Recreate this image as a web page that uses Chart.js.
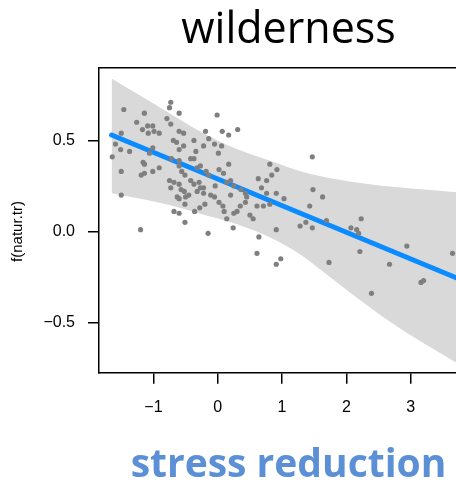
<!DOCTYPE html>
<html>
<head>
<meta charset="utf-8">
<script src="https://cdn.jsdelivr.net/npm/chart.js@4"></script>
<style>
  html, body { margin: 0; padding: 0; background: #fff; overflow: hidden; }
  #wrap { width: 482px; height: 483px; position: relative; }
</style>
</head>
<body>
<div id="wrap"><canvas id="myChart"></canvas></div>
<script>
// partial residuals
const pointX = [
  -1.46, -0.73, -0.75, -0.60, -1.14, -0.01, -1.26, -0.79, -0.73, -1.09,
  -1.17, -1.01, -1.08, -0.99, -0.91, -0.60, -0.53, -0.19, 0.07, 0.17,
  0.31, -0.14, -0.37, -0.69, -0.64, -0.53, -1.50, -1.59, -1.51, -1.37,
  -1.64, -1.01, -1.06, -0.60, -0.34, -0.22, -0.05, 0.06, 0.01, -0.37,
  -0.72, -0.60, -0.42, -1.16, -1.14, -0.91, -1.50, -1.01, -1.19, -1.14,
  -0.60, -0.56, -0.51, -0.27, -0.32, -0.18, -0.14, 0.02, 0.17, 0.09,
  -0.75, -0.68, -0.73, -0.60, -0.57, -0.52, -0.63, -0.42, -0.37, -0.29,
  -0.27, -0.32, -0.22, -0.45, -0.60, -0.50, -0.22, -0.04, 0.14, 0.20,
  0.25, -0.11, -0.05, 0.20, 0.36, 0.45, 0.43, 0.63, 0.76, 0.81,
  0.84, 0.68, 0.76, 0.81, -1.50, -0.51, -0.20, 0.02, 0.08, -0.36,
  -0.28, -0.68, -0.60, 0.10, 0.25, 0.30, 0.35, 0.43, 0.50, 0.55,
  0.61, -0.51, -1.20, -0.15, 0.24, 0.64, 0.61, 0.14, 0.71,
  1.47, 0.91, 1.03, 1.48, 1.63, 1.43, 1.28, 1.37, 1.47, 1.69,
  2.07, 2.16, 2.19, 2.23, 0.91, 2.21, 1.73, 2.94, 2.67, 0.91,
  0.98, 2.39, 3.16, 3.20, 3.65, 0.92
];
const pointY = [
  0.67, 0.71, 0.68, 0.65, 0.65, 0.64, 0.60, 0.62, 0.59, 0.58,
  0.56, 0.58, 0.54, 0.55, 0.54, 0.55, 0.54, 0.55, 0.55, 0.53,
  0.56, 0.51, 0.50, 0.50, 0.49, 0.47, 0.54, 0.48, 0.45, 0.44,
  0.41, 0.46, 0.43, 0.45, 0.44, 0.47, 0.48, 0.47, 0.43, 0.40,
  0.40, 0.39, 0.40, 0.38, 0.37, 0.35, 0.33, 0.33, 0.31, 0.32,
  0.36, 0.33, 0.31, 0.36, 0.35, 0.33, 0.31, 0.34, 0.37, 0.32,
  0.28, 0.27, 0.24, 0.26, 0.23, 0.22, 0.19, 0.28, 0.26, 0.27,
  0.24, 0.22, 0.24, 0.20, 0.18, 0.19, 0.21, 0.25, 0.27, 0.28,
  0.25, 0.20, 0.19, 0.20, 0.23, 0.19, 0.21, 0.29, 0.28, 0.37,
  0.31, 0.24, 0.21, 0.15, 0.20, 0.15, 0.15, 0.16, 0.14, 0.11,
  0.13, 0.11, 0.10, 0.11, 0.10, 0.11, 0.14, 0.16, 0.09, 0.07,
  0.14, 0.05, 0.01, -0.01, 0.02, -0.03, -0.12, 0.07, 0.14,
  0.41, 0.21, 0.18, 0.23, 0.19, 0.14, 0.03, 0.05, 0.02, 0.06,
  0.02, 0.01, -0.01, 0.07, 0.01, -0.11, -0.17, -0.08, -0.18, -0.18,
  -0.15, -0.34, -0.28, -0.27, -0.12, 0.34
];

// fitted line and its confidence band
const fitX = [-1.65, 3.95];
const fitY = [0.53, -0.29];
const bandX = [-1.65, -1.2, -0.75, -0.3, 0.25, 0.8, 1.3, 1.8, 2.3, 2.8, 3.3, 3.95];
const bandUpper = [0.84, 0.745, 0.65, 0.555, 0.46, 0.39, 0.33, 0.29, 0.262, 0.243, 0.228, 0.21];
const bandLower = [0.21, 0.18, 0.145, 0.10, 0.045, -0.03, -0.13, -0.265, -0.40, -0.525, -0.635, -0.77];

const xTicks = [-1, 0, 1, 2, 3];
const xTickLabels = ['\u22121', '0', '1', '2', '3'];
const yTicks = [-0.5, 0, 0.5];
const yTickLabels = ['\u22120.5', '0.0', '0.5'];
const yLabel = 'f(natur.tr)';

const pairs = (xs, ys) => xs.map((x, i) => ({ x: x, y: ys[i] }));

const axisFont = { family: 'Liberation Sans', size: 16 };
const clear = 'rgba(0,0,0,0)';

// rotated y label, sitting level with the zero tick
const yLabelPlugin = {
    id: 'yLabel',
    afterDraw(chart) {
        const c = chart.ctx;
        const y0 = chart.scales.y.getPixelForValue(0);
        c.save();
        c.translate(18, y0);
        c.rotate(-Math.PI / 2);
        c.font = '15px "Liberation Sans"';
        c.fillStyle = '#000';
        c.textAlign = 'center';
        c.textBaseline = 'middle';
        c.fillText(yLabel, 0, 0);
        c.restore();
    }
};

const ctx = document.getElementById('myChart');

new Chart(ctx, {
    type: 'scatter',
    data: {
        datasets: [
            {
                type: 'line',
                data: pairs(bandX, bandUpper),
                fill: '+1',
                backgroundColor: '#d9d9d9',
                borderColor: clear,
                borderWidth: 0,
                pointRadius: 0,
                cubicInterpolationMode: 'monotone',
                order: 3
            },
            {
                type: 'line',
                data: pairs(bandX, bandLower),
                fill: false,
                borderColor: clear,
                borderWidth: 0,
                pointRadius: 0,
                cubicInterpolationMode: 'monotone',
                order: 3
            },
            {
                type: 'line',
                data: pairs(fitX, fitY),
                fill: false,
                borderColor: '#0a8bff',
                borderWidth: 5,
                borderCapStyle: 'round',
                pointRadius: 0,
                order: 2
            },
            {
                data: pairs(pointX, pointY),
                pointBackgroundColor: '#7f7f7f',
                pointBorderWidth: 0,
                pointRadius: 2.6,
                order: 1
            }
        ]
    },
    options: {
        responsive: true,
        maintainAspectRatio: false,
        animation: false,
        layout: { padding: 0 },
        plugins: {
            legend: { display: false },
            tooltip: { enabled: false }
        },
        scales: {
            x: {
                type: 'linear',
                position: 'bottom',
                min: -1.846,
                max: 4.046,
                afterFit: s => { s.height = 110.3; },
                afterBuildTicks: s => { s.ticks = xTicks.map(v => ({ value: v })); },
                ticks: {
                    callback: (v, i) => xTickLabels[i],
                    color: '#000',
                    font: axisFont,
                    padding: 14,
                    maxRotation: 0,
                    autoSkip: false
                },
                grid: { drawOnChartArea: false, tickLength: 11, color: '#000', lineWidth: 1.5 },
                border: { color: '#000', width: 1.5 },
                title: {
                    display: true,
                    text: 'stress reduction',
                    color: '#5b8fd6',
                    font: { family: 'Open Sans', size: 39, weight: 'bold', lineHeight: 0.8 },
                    padding: { top: 0, bottom: 2 }
                }
            },
            top: {
                type: 'linear',
                position: 'top',
                min: -1.846,
                max: 4.046,
                afterFit: s => { s.height = 67.3; },
                ticks: { display: false },
                grid: { display: false },
                border: { color: '#000', width: 1.5 },
                title: {
                    display: true,
                    text: 'wilderness',
                    color: '#000',
                    font: { family: 'Open Sans', size: 43, lineHeight: 1 },
                    padding: { top: 9, bottom: 0 }
                }
            },
            y: {
                type: 'linear',
                position: 'left',
                min: -0.776,
                max: 0.902,
                afterFit: s => { s.width = 99; },
                afterBuildTicks: s => { s.ticks = yTicks.map(v => ({ value: v })); },
                ticks: {
                    callback: (v, i) => yTickLabels[i],
                    color: '#000',
                    font: axisFont,
                    padding: 13,
                    autoSkip: false
                },
                grid: { drawOnChartArea: false, tickLength: 11, color: '#000', lineWidth: 1.5 },
                border: { color: '#000', width: 1.5 }
            }
        }
    },
    plugins: [yLabelPlugin]
});
</script>
</body>
</html>
